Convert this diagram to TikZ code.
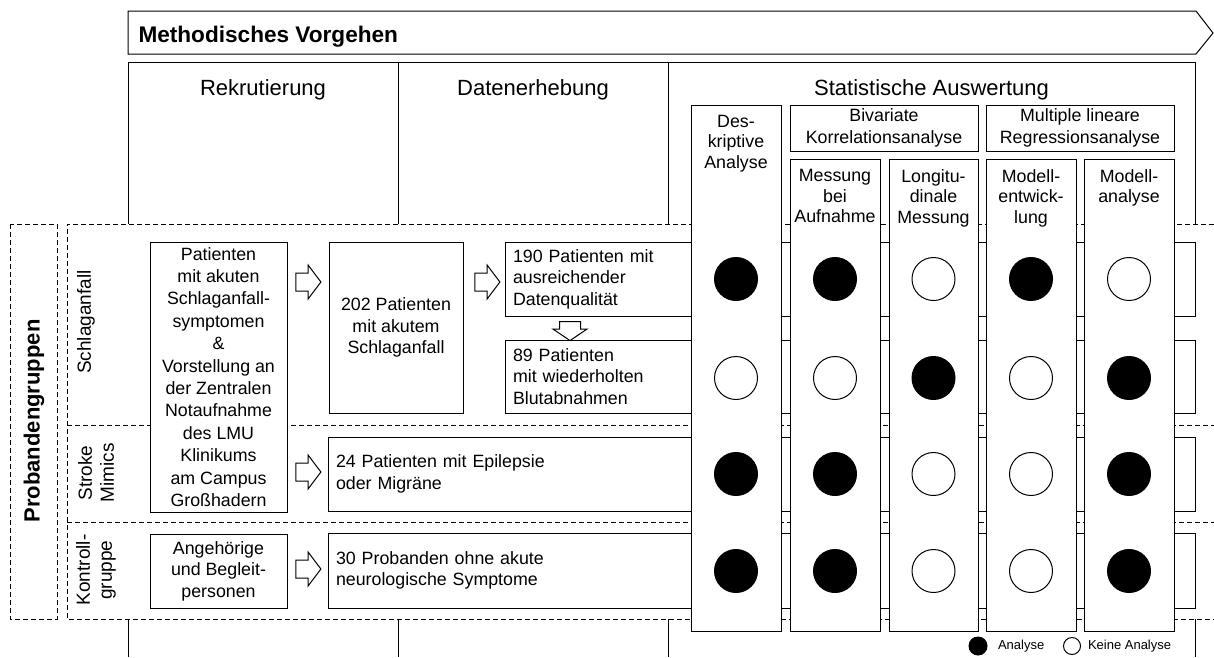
\documentclass[tikz,border=0pt]{standalone}
\usepackage{fontspec}
\setmainfont{Liberation Sans}
\usetikzlibrary{positioning,shapes.arrows}
\newcommand{\setfs}[2]{\fontsize{#1}{#2}\selectfont}

\begin{document}
\begin{tikzpicture}[x=1pt,y=-1pt,line width=1pt,
    kopf/.style={anchor=base,inner sep=0pt,font=\setfs{22}{26}},
    box/.style={draw,fill=white,inner sep=0pt,align=center,font=\setfs{17.8}{21.5}},
    linksbox/.style={draw,fill=white,inner xsep=8pt,inner ysep=0pt,align=left,font=\setfs{17.8}{21.5}},
    pfeil/.style={single arrow,draw,fill=white,inner xsep=0pt,inner ysep=8.5pt,single arrow head extend=8pt,single arrow tip angle=106,minimum height=25pt,minimum width=33pt},
    gestrichelt/.style={dash pattern=on 5pt off 3pt},
    gruppe/.style={rotate=90,align=center,inner sep=0pt,font=\setfs{19}{22}},
    spalte/.style={draw,fill=white,minimum width=90pt,inner sep=0pt},
    spkopf/.style={inner sep=0pt,align=center,font=\setfs{17.8}{20.5}},
    ja/.style={circle,draw,fill=black,minimum size=43pt,inner sep=0pt},
    nein/.style={circle,draw,fill=white,minimum size=43pt,inner sep=0pt}]
    \useasboundingbox (0,0) rectangle (1214,657);

    % Kopfzeile
    \draw[fill=white] (128,11) -- (1196,11) -- (1213,33) -- (1196,54) -- (128,54) -- cycle;
    \node[anchor=base west,inner sep=0pt,font=\bfseries\setfs{22.6}{26}] (titel) at (138,42) {Methodisches Vorgehen};

    % Phasen
    \draw (128,657) -- (128,62) -- (1195,62) -- (1195,657);
    \draw (398,62) -- (398,657);
    \draw (668,62) -- (668,657);
    \node[kopf] (rekr) at (263,95) {Rekrutierung};
    \node[kopf] (daten) at (533,95) {Datenerhebung};
    \node[kopf] (stat) at (931.5,95) {Statistische Auswertung};

    % Probandengruppen
    \draw[gestrichelt] (10,224) rectangle (57,619);
    \node[rotate=90,inner sep=0pt,font=\bfseries\setfs{22}{26}] (prob) at (34,421) {Probandengruppen};
    \fill[white] (67,224) rectangle (1214,619);
    \draw[gestrichelt] (1214,224) -- (67,224) -- (67,619) -- (1214,619);
    \draw[gestrichelt] (67,425) -- (1214,425);
    \draw[gestrichelt] (67,522) -- (1214,522);
    \node[gruppe] (schlag) at (86,322) {Schlaganfall};
    \node[gruppe] (mimics) at (96,473) {Stroke\\Mimics};
    \node[gruppe] (kontr) at (96,570) {Kontroll-\\gruppe};

    % Rekrutierung und Datenerhebung
    \node[box,minimum width=137pt,minimum height=270pt,font=\setfs{17.8}{22.4}] (pat) at (218.5,377) {Patienten\\mit akuten\\Schlaganfall-\\symptomen\\\&\\Vorstellung an\\der Zentralen\\Notaufnahme\\des LMU\\Klinikums\\am Campus\\Großhadern};
    \node[box,minimum width=137pt,minimum height=74pt] (ang) at (218.5,571) {Angehörige\\und Begleit-\\personen};
    \node[box,minimum width=134pt,minimum height=171pt] (b202) at (396,327.5) {202 Patienten\\mit akutem\\Schlaganfall};
    \node[linksbox,text width=674pt,minimum height=74pt] (b190) at (850,279) {190 Patienten mit\\ausreichender\\Datenqualität};
    \node[linksbox,text width=674pt,minimum height=73pt] (b89) at (850,376.5) {89 Patienten\\mit wiederholten\\Blutabnahmen};
    \node[linksbox,text width=851pt,minimum height=74pt] (b24) at (761.5,474) {24 Patienten mit Epilepsie\\oder Migräne};
    \node[linksbox,text width=851pt,minimum height=75pt] (b30) at (761.5,570.5) {30 Probanden ohne akute\\neurologische Symptome};

    \node[pfeil] (p1) at (305,282) {};
    \node[pfeil] (p2) at (484,282) {};
    \node[pfeil,rotate=-90,minimum height=19pt,inner ysep=10pt,single arrow head extend=6.5pt,single arrow tip angle=112] (p3) at (570,327.5) {};
    \node[pfeil] (p4) at (305,472) {};
    \node[pfeil] (p5) at (305,569) {};

    % Statistische Auswertung
    \node[spalte,minimum height=526pt] (desk) at (736,368) {};
    \node[spalte,minimum height=472pt] (mess) at (835,395) {};
    \node[spalte,minimum width=89pt,minimum height=472pt] (long) at (933.5,395) {};
    \node[spalte,minimum height=472pt] (entw) at (1031,395) {};
    \node[spalte,minimum height=472pt] (anal) at (1129,395) {};
    \node[box,minimum width=188pt,minimum height=46pt] (biv) at (884,128) {Bivariate\\Korrelationsanalyse};
    \node[box,minimum width=188pt,minimum height=46pt] (mlr) at (1080,128) {Multiple lineare\\Regressionsanalyse};
    \node[spkopf,below=10pt of desk.north] (tdesk) {Des-\\kriptive\\Analyse};
    \node[spkopf,below=10.5pt of mess.north] (tmess) {Messung\\bei\\Aufnahme};
    \node[spkopf,below=10.5pt of long.north] (tlong) {Longitu-\\dinale\\Messung};
    \node[spkopf,below=10.5pt of entw.north] (tentw) {Modell-\\entwick-\\lung};
    \node[spkopf,below=10.5pt of anal.north] (tanal) {Modell-\\analyse};

    \node[ja] (k11) at (736,279) {};
    \node[ja] (k12) at (835,279) {};
    \node[nein] (k13) at (933.5,279) {};
    \node[ja] (k14) at (1031,279) {};
    \node[nein] (k15) at (1129,279) {};
    \node[nein] (k21) at (736,378) {};
    \node[nein] (k22) at (835,378) {};
    \node[ja] (k23) at (933.5,378) {};
    \node[nein] (k24) at (1031,378) {};
    \node[ja] (k25) at (1129,378) {};
    \node[ja] (k31) at (736,474) {};
    \node[ja] (k32) at (835,474) {};
    \node[nein] (k33) at (933.5,474) {};
    \node[nein] (k34) at (1031,474) {};
    \node[ja] (k35) at (1129,474) {};
    \node[ja] (k41) at (736,571) {};
    \node[ja] (k42) at (835,571) {};
    \node[nein] (k43) at (933.5,571) {};
    \node[nein] (k44) at (1031,571) {};
    \node[ja] (k45) at (1129,571) {};

    % Legende
    \node[ja,minimum size=18pt] (legja) at (978,646) {};
    \node[right=10pt of legja,inner sep=0pt,font=\setfs{13}{15}] (tja) {Analyse};
    \node[nein,minimum size=17pt] (legnein) at (1072,646) {};
    \node[right=6.5pt of legnein,inner sep=0pt,font=\setfs{13}{15}] (tnein) {Keine Analyse};
\end{tikzpicture}
\end{document}
